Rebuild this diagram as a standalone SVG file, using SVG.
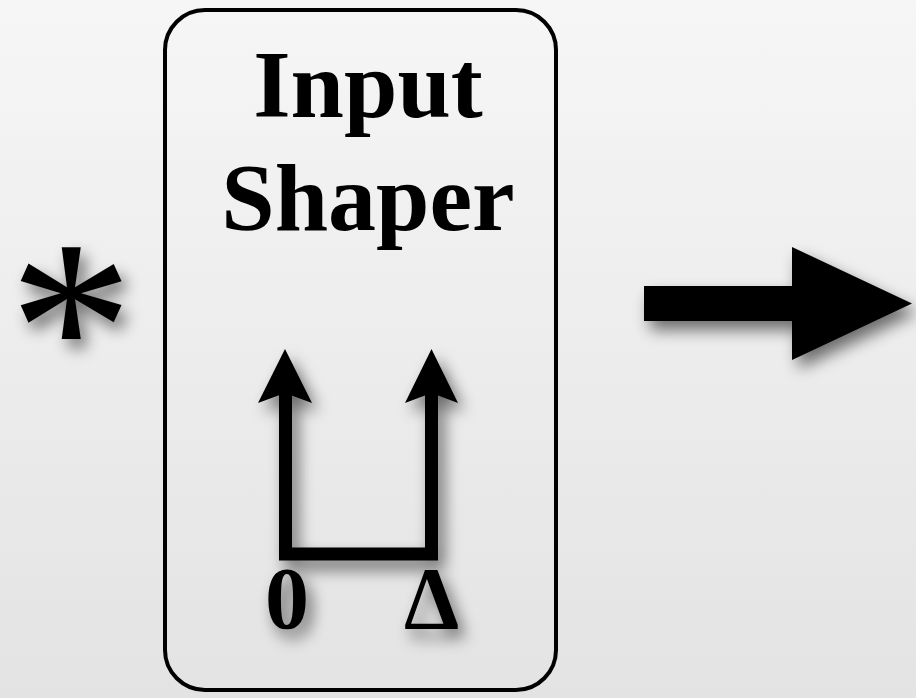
<svg xmlns="http://www.w3.org/2000/svg" width="916" height="698" viewBox="0 0 916 698">
<defs>
<linearGradient id="bg" x1="0" y1="0" x2="0" y2="1">
<stop offset="0" stop-color="#f6f6f6"/>
<stop offset="1" stop-color="#e3e3e3"/>
</linearGradient>
<filter id="sh" x="-30%" y="-30%" width="170%" height="170%">
<feGaussianBlur in="SourceAlpha" stdDeviation="8"/>
<feOffset dx="6" dy="9" result="b"/>
<feComponentTransfer><feFuncA type="linear" slope="0.55"/></feComponentTransfer>
<feMerge><feMergeNode/><feMergeNode in="SourceGraphic"/></feMerge>
</filter>
</defs>
<style>
.t{font-family:"Liberation Serif","Times New Roman",serif;font-weight:bold;fill:#000;text-anchor:middle}
.ln{fill:none;stroke:#000;stroke-width:13;stroke-linecap:square;stroke-linejoin:miter}
</style>
<rect width="916" height="698" fill="url(#bg)"/>
<g id="asterisk" filter="url(#sh)">
<text class="t" x="71" y="411" font-size="250" style="font-weight:normal">*</text>
</g>
<g id="shaper">
<rect x="165" y="10" width="391" height="680" rx="40" fill="none" stroke="#000" stroke-width="4"/>
<text class="t" x="368" y="117" font-size="96">Input</text>
<text class="t" x="368" y="230" font-size="96">Shaper</text>
<g filter="url(#sh)">
<path class="ln" d="M285.5,395 V554 H431.5 V395"/>
<polygon points="285,349 312,403 285,393 258,403"/>
<polygon points="431.5,349 458,403 431.5,393 405,403"/>
<text class="t" x="287" y="628" font-size="88">0</text>
<text class="t" x="431.5" y="628" font-size="88">Δ</text>
</g>
</g>
<g id="connectors">
<polygon filter="url(#sh)" points="644,286 792,286 792,247 912,303.5 792,360 792,321 644,321"/>
</g>
</svg>
